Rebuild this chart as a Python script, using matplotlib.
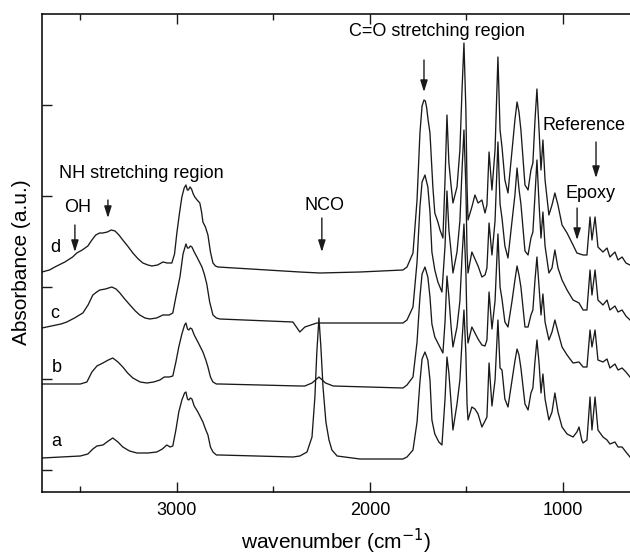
import numpy as np
import matplotlib
matplotlib.use("Agg")
import matplotlib.pyplot as plt

plt.rcParams['font.family'] = ['Liberation Sans', 'DejaVu Sans']

# FTIR spectra, wavenumber (cm-1) and stacked absorbance (a.u.)
wn_a = [3699, 3600, 3500, 3461, 3435, 3414, 3383, 3355, 3332, 3305, 3280, 3245, 3207, 3150,
        3104, 3075, 3052, 3035, 3021, 3005, 2990, 2974, 2960, 2953, 2945, 2938, 2930, 2922,
        2910, 2891, 2878, 2865, 2850, 2839, 2826, 2813, 2795, 2777, 2399, 2363, 2326, 2300,
        2285, 2275, 2264, 2254, 2243, 2228, 2212, 2197, 2170, 2052, 1829, 1808, 1777, 1756,
        1741, 1730, 1715, 1700, 1689, 1679, 1664, 1643, 1627, 1611,
        1601, 1591, 1580, 1570, 1549, 1534, 1523, 1513, 1503, 1497, 1492, 1472, 1456, 1440,
        1420, 1404, 1394, 1383, 1368, 1352, 1337, 1326, 1316, 1301, 1285, 1264, 1249, 1238,
        1228, 1218, 1197, 1181, 1166, 1156, 1145, 1135, 1124, 1114, 1104, 1093, 1073, 1057,
        1042, 1026, 1005, 979, 948, 928, 917, 903, 896, 876, 860, 850, 834, 819, 793, 772,
        757, 731, 715, 694, 674, 653]
abs_a = [0.34, 0.35, 0.36, 0.38, 0.43, 0.46, 0.47, 0.51, 0.54, 0.50, 0.45, 0.41, 0.39, 0.39,
         0.40, 0.43, 0.47, 0.45, 0.46, 0.62, 0.80, 0.92, 0.99, 1.00, 0.93, 0.92, 0.94, 0.93,
         0.86, 0.80, 0.75, 0.70, 0.62, 0.57, 0.45, 0.40, 0.37, 0.37, 0.35, 0.36, 0.40, 0.55,
         0.95, 1.40, 1.74, 1.45, 1.05, 0.70, 0.52, 0.42, 0.36, 0.33, 0.33, 0.35, 0.42, 0.70,
         1.10, 1.33, 1.40, 1.32, 1.12, 0.72, 0.58, 0.50, 0.47, 0.93,
         1.35, 1.19, 0.90, 0.62, 0.88, 1.12, 1.51, 1.82, 1.38, 0.88, 0.72, 0.85, 0.83, 0.78,
         0.65, 0.71, 0.75, 1.29, 0.86, 1.12, 1.72, 1.24, 1.22, 0.93, 0.85, 1.12, 1.31, 1.43,
         1.37, 1.24, 0.88, 0.82, 0.99, 1.04, 1.31, 1.52, 1.29, 0.99, 1.18, 0.93, 0.72, 0.80,
         0.99, 0.80, 0.65, 0.58, 0.55, 0.60, 0.65, 0.52, 0.49, 0.52, 0.95, 0.62, 0.95, 0.62,
         0.55, 0.52, 0.48, 0.50, 0.45, 0.45, 0.40, 0.35]

wn_b = [3699, 3600, 3500, 3466, 3440, 3414, 3383, 3355, 3332, 3305, 3280, 3255, 3228, 3190,
        3155, 3120, 3088, 3065, 3040, 3021, 3005, 2990, 2974, 2960, 2953, 2945, 2938, 2930,
        2922, 2910, 2891, 2878, 2865, 2850, 2839, 2826, 2813, 2795, 2777, 2363, 2337, 2300,
        2264, 2230, 2190, 1829, 1808, 1777, 1756, 1741, 1730, 1715, 1700, 1689, 1679, 1664,
        1643, 1622, 1611, 1601, 1591, 1580, 1570, 1549, 1534,
        1523, 1513, 1503, 1497, 1492, 1472, 1456, 1440, 1420, 1404, 1394, 1383, 1368, 1352,
        1337, 1326, 1316, 1301, 1285, 1264, 1249, 1238, 1228, 1218, 1197, 1181, 1166, 1156,
        1145, 1135, 1124, 1114, 1104, 1093, 1073, 1057, 1042, 1026, 1005, 979, 948, 917, 896,
        876, 860, 850, 834, 819, 793, 772, 757, 731, 715, 694, 674, 653]
abs_b = [1.08, 1.08, 1.08, 1.10, 1.20, 1.26, 1.29, 1.32, 1.34, 1.30, 1.25, 1.19, 1.14, 1.10,
         1.09, 1.10, 1.12, 1.15, 1.15, 1.16, 1.30, 1.45, 1.58, 1.67, 1.69, 1.63, 1.62, 1.64,
         1.63, 1.57, 1.50, 1.45, 1.40, 1.32, 1.25, 1.15, 1.10, 1.08, 1.08, 1.06, 1.06, 1.09,
         1.15, 1.09, 1.06, 1.04, 1.07, 1.15, 1.50, 1.95, 2.18, 2.25, 2.15, 1.95, 1.68, 1.55,
         1.47, 1.39, 1.70, 2.16, 1.95, 1.66, 1.45, 1.65, 1.91,
         2.35, 2.68, 2.20, 1.65, 1.49, 1.65, 1.59, 1.53, 1.47, 1.46, 1.52, 2.00, 1.63, 1.91,
         2.58, 2.05, 1.93, 1.70, 1.65, 1.91, 2.12, 2.26, 2.17, 2.05, 1.65, 1.65, 1.77, 1.82,
         2.12, 2.35, 2.05, 1.77, 1.98, 1.70, 1.52, 1.60, 1.72, 1.60, 1.45, 1.37, 1.29, 1.30,
         1.25, 1.25, 1.62, 1.45, 1.62, 1.32, 1.30, 1.33, 1.24, 1.28, 1.22, 1.24, 1.20, 1.15]

wn_c = [3699, 3650, 3600, 3570, 3530, 3487, 3460, 3435, 3415, 3399, 3370, 3337, 3315, 3295,
        3270, 3243, 3215, 3192, 3165, 3140, 3105, 3072, 3040, 3021, 3005, 2984, 2968, 2953,
        2945, 2938, 2930, 2922, 2910, 2896, 2883, 2870, 2858, 2845, 2830, 2813, 2795, 2777,
        2399, 2363, 2337, 2275, 1829, 1808, 1777, 1756, 1741, 1730, 1715, 1700, 1689, 1679,
        1664, 1648, 1627, 1611, 1601, 1591, 1580, 1570, 1549, 1534, 1523,
        1513, 1503, 1497, 1492, 1472, 1456, 1440, 1420, 1404, 1394, 1383, 1368, 1352, 1337,
        1326, 1316, 1301, 1285, 1264, 1249, 1238, 1228, 1218, 1197, 1181, 1166, 1156, 1145,
        1135, 1124, 1114, 1104, 1093, 1073, 1057, 1042, 1026, 1005, 979, 948, 917, 896, 876,
        860, 850, 834, 819, 793, 772, 757, 731, 715, 694, 674, 653]
abs_c = [1.64, 1.66, 1.68, 1.70, 1.74, 1.79, 1.87, 1.97, 2.00, 2.02, 2.03, 2.05, 2.03, 1.99,
         1.93, 1.87, 1.81, 1.77, 1.74, 1.73, 1.74, 1.77, 1.77, 1.79, 1.95, 2.15, 2.38, 2.48,
         2.44, 2.44, 2.46, 2.45, 2.40, 2.35, 2.30, 2.25, 2.18, 2.08, 1.90, 1.77, 1.74, 1.73,
         1.70, 1.60, 1.65, 1.69, 1.69, 1.72, 1.85, 2.30, 2.85, 3.10, 3.17, 3.05, 2.80, 2.40,
         2.22, 2.10, 2.00, 2.46, 3.01, 2.62, 2.41, 2.19, 2.40, 2.71, 3.22,
         3.62, 3.05, 2.40, 2.19, 2.40, 2.33, 2.26, 2.15, 2.17, 2.24, 2.69, 2.37, 2.71, 3.50,
         2.88, 2.74, 2.46, 2.34, 2.71, 2.97, 3.24, 3.03, 2.88, 2.41, 2.37, 2.54, 2.60, 2.97,
         3.32, 2.88, 2.54, 2.80, 2.46, 2.19, 2.24, 2.42, 2.24, 2.12, 2.02, 1.92, 1.89, 1.82,
         1.82, 2.22, 1.97, 2.22, 1.92, 1.87, 1.92, 1.82, 1.86, 1.80, 1.82, 1.76, 1.72]

wn_d = [3699, 3660, 3632, 3580, 3540, 3518, 3490, 3461, 3440, 3420, 3400, 3383, 3360, 3340,
        3320, 3300, 3280, 3255, 3228, 3200, 3176, 3150, 3129, 3100, 3072, 3050, 3026, 3012,
        3000, 2987, 2974, 2962, 2953, 2946, 2940, 2932, 2924, 2915, 2907, 2895, 2881, 2872,
        2865, 2852, 2839, 2826, 2813, 2800, 2787, 2534, 2363, 2259, 2052, 1829, 1808, 1777,
        1756, 1741, 1730, 1720, 1713, 1706, 1700, 1689, 1674, 1664, 1648, 1637, 1622, 1611,
        1601, 1591, 1580, 1570, 1549, 1534, 1523, 1513, 1503, 1497, 1492, 1472, 1456, 1440,
        1420, 1404, 1394, 1383, 1368, 1352, 1337, 1326, 1316, 1301, 1285, 1264, 1249, 1238,
        1228, 1218, 1197, 1181, 1166, 1156, 1145, 1135, 1124, 1114, 1104, 1093, 1073, 1057,
        1042, 1026, 1005, 979, 948, 928, 896, 876, 860, 850, 834, 819, 793, 772, 757, 731,
        715, 694, 674, 653]
abs_d = [2.20, 2.22, 2.25, 2.30, 2.35, 2.39, 2.42, 2.46, 2.52, 2.57, 2.59, 2.59, 2.60, 2.62,
         2.61, 2.57, 2.52, 2.46, 2.39, 2.33, 2.29, 2.27, 2.26, 2.27, 2.30, 2.29, 2.29, 2.38,
         2.59, 2.78, 2.95, 3.04, 3.07, 3.02, 3.02, 3.05, 3.03, 2.98, 2.95, 2.92, 2.89, 2.80,
         2.70, 2.65, 2.57, 2.40, 2.29, 2.26, 2.25, 2.22, 2.20, 2.19, 2.20, 2.22, 2.25, 2.39,
         2.92, 3.59, 3.86, 3.92, 3.91, 3.84, 3.74, 3.59, 3.05, 2.79, 2.70, 2.62, 2.54, 3.12,
         3.77, 3.29, 3.07, 2.89, 3.05, 3.42, 4.02, 4.49, 3.82, 3.05, 2.72, 2.85, 2.97, 2.89,
         2.92, 2.79, 2.87, 3.40, 3.02, 3.42, 4.35, 3.62, 3.45, 3.12, 2.99, 3.42, 3.72, 3.90,
         3.80, 3.62, 3.07, 3.02, 3.22, 3.29, 3.72, 4.03, 3.62, 3.22, 3.52, 3.12, 2.77, 2.87,
         2.99, 2.87, 2.67, 2.59, 2.47, 2.39, 2.37, 2.37, 2.75, 2.52, 2.75, 2.45, 2.40, 2.44,
         2.35, 2.40, 2.32, 2.35, 2.29, 2.27]

trace_names = ['a', 'b', 'c', 'd']
name_pos = [(3648, 0.50), (3648, 1.24), (3658, 1.79), (3658, 2.45)]

fig = plt.figure(figsize=(6.3, 5.55), dpi=100)
ax = fig.add_axes([41.7 / 630, 63 / 555, 1 - 41.7 / 630, 478 / 555])

for wn, ab in [(wn_a, abs_a), (wn_b, abs_b), (wn_c, abs_c), (wn_d, abs_d)]:
    ax.plot(wn, ab, color='#1a1a1a', lw=0.95)

ax.set_xlim(3700, 653)
ax.set_ylim(0, 4.78)
ax.set_xticks([3000, 2000, 1000])
ax.set_xticks([3500, 2500, 1500], minor=True)
ax.set_yticks([0.22, 1.13, 2.05, 2.96, 3.87])
ax.set_yticklabels([])
ax.tick_params(which='both', direction='in', top=True, labelsize=13, pad=7,
               width=1, color='#1a1a1a')
ax.tick_params(which='major', length=7)
ax.tick_params(which='minor', length=4)
ax.spines['right'].set_visible(False)
for s in ['left', 'bottom', 'top']:
    ax.spines[s].set_linewidth(1.1)

fig.text(336 / 630, 1 - 541 / 555, 'wavenumber (cm$^{-1}$)', ha='center', va='center',
         fontsize=15)
fig.text(22 / 630, 1 - 262 / 555, 'Absorbance (a.u.)', ha='center', va='center',
         rotation=90, fontsize=15)

for name, (x, y) in zip(trace_names, name_pos):
    ax.text(x, y, name, ha='left', va='center', fontsize=13)

# band labels with arrows: text, text pos, arrow tail, arrow tip
bands = [
    ('OH', (3513, 2.84), (3528, 2.67), (3528, 2.40)),
    ('NH stretching region', (3186, 3.19), (3357, 2.92), (3357, 2.74)),
    ('NCO', (2233, 2.87), (2249, 2.74), (2249, 2.40)),
    ('C=O stretching region', (1653, 4.60), (1720, 4.32), (1720, 4.00)),
    ('Reference', (891, 3.66), (829, 3.50), (829, 3.14)),
    ('Epoxy', (860, 2.99), (927, 2.84), (927, 2.52)),
]
for label, tpos, tail, tip in bands:
    ax.text(tpos[0], tpos[1], label, ha='center', va='center', fontsize=13)
    ax.annotate('', xy=tip, xytext=tail,
                arrowprops=dict(arrowstyle='-|>,head_length=0.7,head_width=0.22',
                                color='#1a1a1a', lw=1, shrinkA=0, shrinkB=0))

fig.savefig('out.png', dpi=100)
